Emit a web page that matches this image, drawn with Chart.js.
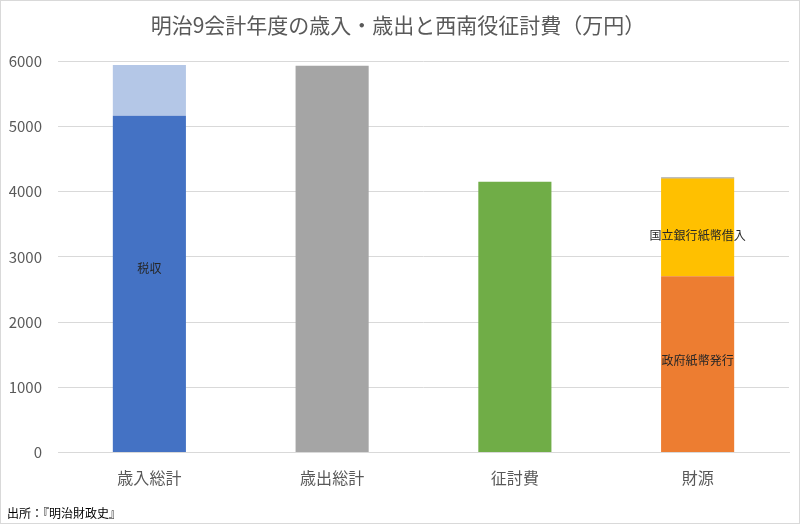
<!DOCTYPE html>
<html>
<head>
<meta charset="utf-8">
<script src="https://cdn.jsdelivr.net/npm/chart.js@4"></script>
<style>
  html, body { margin: 0; padding: 0; background: #fff; }
  #wrap { width: 800px; height: 524px; box-sizing: border-box; border: 1px solid #d9d9d9; }
</style>
</head>
<body>
<div id="wrap"><canvas id="meijiChart"></canvas></div>
<script>
// categories on the x axis
var categories = ["歳入総計", "歳出総計", "征討費", "財源"];

// stacked segments (万円), one value per category
var taxRevenue   = [5165, null, null, null];   // 税収
var otherRevenue = [775, null, null, null];    // その他歳入
var expenditure  = [null, 5930, null, null];   // 歳出
var warCost      = [null, null, 4150, null];   // 征討費
var govNotes     = [null, null, null, 2700];   // 政府紙幣発行
var bankLoan     = [null, null, null, 1500];   // 国立銀行紙幣借入
var otherSource  = [null, null, null, 15];     // その他

var yTicks = [0, 1000, 2000, 3000, 4000, 5000, 6000];

var font = "'Noto Sans CJK JP', 'Noto Sans', sans-serif";

// writes a text label in the middle of a segment
var segmentLabels = {
    id: "segmentLabels",
    afterDatasetsDraw: function (chart) {
        var ctx = chart.ctx;
        ctx.save();
        ctx.font = "12px " + font;
        ctx.fillStyle = "#262626";
        ctx.textAlign = "center";
        ctx.textBaseline = "middle";
        chart.data.datasets.forEach(function (ds, i) {
            if (!ds.inner) return;
            var meta = chart.getDatasetMeta(i);
            meta.data.forEach(function (bar, j) {
                if (ds.data[j] == null) return;
                ctx.fillText(ds.inner, bar.x, (bar.y + bar.base) / 2 + ds.shift);
            });
        });
        ctx.restore();
    }
};

var ctx = document.getElementById("meijiChart").getContext("2d");
var meijiChart = new Chart(ctx, {
    type: "bar",
    data: {
        labels: categories,
        datasets: [
            { label: "税収", data: taxRevenue, backgroundColor: "#4472C4", inner: "税収", shift: -15 },
            { label: "その他歳入", data: otherRevenue, backgroundColor: "#B4C7E7" },
            { label: "歳出", data: expenditure, backgroundColor: "#A5A5A5" },
            { label: "征討費", data: warCost, backgroundColor: "#70AD47" },
            { label: "政府紙幣発行", data: govNotes, backgroundColor: "#ED7D31", inner: "政府紙幣発行", shift: -4 },
            { label: "国立銀行紙幣借入", data: bankLoan, backgroundColor: "#FFC000", inner: "国立銀行紙幣借入", shift: 8 },
            { label: "その他", data: otherSource, backgroundColor: "#7F7F7F" }
        ]
    },
    options: {
        responsive: true,
        maintainAspectRatio: false,
        animation: false,
        datasets: {
            bar: { categoryPercentage: 0.4, barPercentage: 1 }
        },
        layout: { padding: { left: 6, right: 10, top: 0, bottom: 2 } },
        plugins: {
            legend: { display: false },
            tooltip: { enabled: false },
            title: {
                display: true,
                text: "明治9会計年度の歳入・歳出と西南役征討費（万円）",
                color: "#595959",
                font: { family: font, size: 21, weight: "normal" },
                padding: { top: 11, bottom: 24 }
            },
            subtitle: {
                display: true,
                position: "bottom",
                align: "start",
                text: "出所：『明治財政史』",
                color: "#000000",
                font: { family: font, size: 12 },
                padding: { top: 11, bottom: 0 }
            }
        },
        scales: {
            x: {
                stacked: true,
                grid: { display: false },
                border: { color: "#d9d9d9" },
                ticks: { color: "#595959", font: { family: font, size: 16 }, padding: 8 }
            },
            y: {
                stacked: true,
                min: 0,
                max: 6000,
                afterBuildTicks: function (axis) {
                    axis.ticks = yTicks.map(function (v) { return { value: v }; });
                },
                afterFit: function (axis) { axis.width = 51; },
                grid: { color: "#d9d9d9", drawTicks: false },
                border: { display: false },
                ticks: {
                    color: "#595959",
                    font: { family: font, size: 15 },
                    padding: 16,
                    callback: function (v) { return String(v); }
                }
            }
        }
    },
    plugins: [segmentLabels]
});
</script>
</body>
</html>
